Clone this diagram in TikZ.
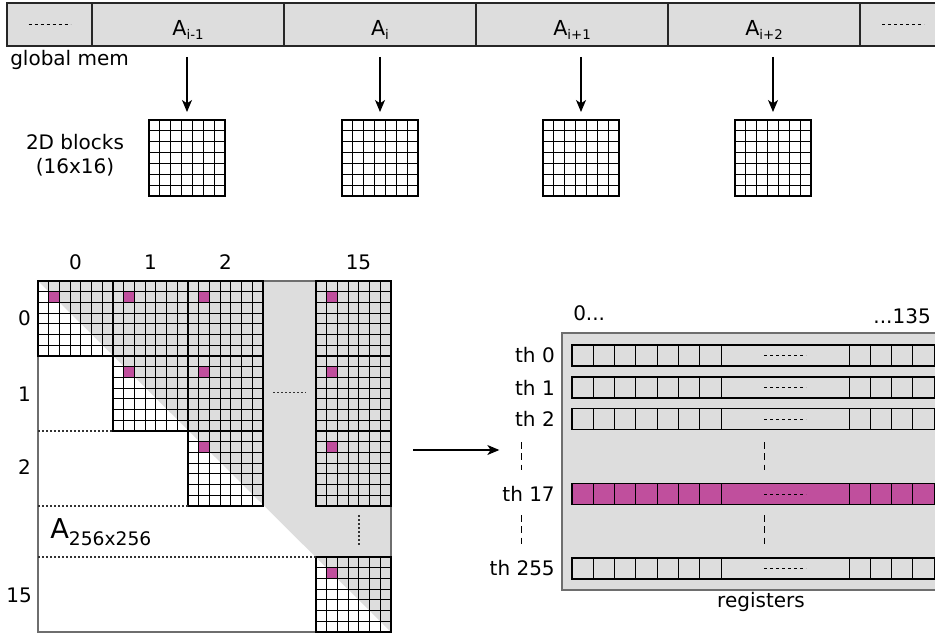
\documentclass[tikz,border=0pt]{standalone}
\usepackage{fontspec}
\setmainfont{DejaVu Sans}
\usetikzlibrary{positioning,arrows.meta,calc}
\definecolor{panelgray}{RGB}{221,221,221}
\definecolor{hitpink}{RGB}{192,79,157}
\definecolor{edgegray}{RGB}{110,110,110}

% small subscript for the memory cells
\newcommand{\memsub}[1]{\raisebox{-2.5pt}{\fontsize{10}{11}\selectfont #1}}

% 7x7 grid inside a block node
\newcommand{\blockgrid}[1]{%
  \foreach \k in {1,...,6}{%
    \draw[gridline] ($(#1.north west)!\k/7!(#1.north east)$) -- ($(#1.south west)!\k/7!(#1.south east)$);
    \draw[gridline] ($(#1.north west)!\k/7!(#1.south west)$) -- ($(#1.north east)!\k/7!(#1.south east)$);
  }}

% block of the big matrix: name, left x, top y
\newcommand{\matblock}[3]{%
  \node[mblock] (#1) at ({#2+37.5},{#3+37.5}) {};
  \blockgrid{#1}
  \fill[hitpink] ({#2+75/7+0.4},{#3+75/7+0.4}) rectangle ++({75/7-0.8},{75/7-0.8});}

% one register row: name, y, label, fill
\newcommand{\regrow}[4]{%
  \node[regbar, fill=#4] (#1) at (753.25,#2) {};
  \foreach \dx in {21.3,42.6,63.9,85.2,106.5,127.8,149.1,277,298.3,319.6,340.9}
    \draw[cellline] ($(#1.north west)+(\dx,0)$) -- ($(#1.south west)+(\dx,0)$);
  \draw[dashline] ($(#1.west)+(192,0)$) -- ++(42,0);
  \node[txt, left=12.75pt of #1] (#1lbl) {#3};}

\begin{document}
\begin{tikzpicture}[
  x=0.75pt, y=-0.75pt,
  txt/.style={font=\fontsize{15}{18}\selectfont, inner sep=0pt},
  memcell/.style={draw=black!85, fill=panelgray, line width=0.9pt,
                  minimum height=32.25pt, inner sep=0pt, outer sep=0pt,
                  font=\fontsize{15.5}{18}\selectfont, text height=17.2pt, text depth=0pt},
  blk/.style={draw, line width=1.5pt, minimum size=57pt, inner sep=0pt, outer sep=0pt},
  mblock/.style={blk, minimum size=56.25pt},
  gridline/.style={line width=0.6pt},
  cellline/.style={line width=0.7pt},
  regbar/.style={draw, line width=0.8pt, minimum width=271.875pt, minimum height=15.75pt,
                 inner sep=0pt, outer sep=0pt},
  arr/.style={-{Stealth[length=9pt,width=7.5pt,inset=2.5pt]}, line width=0.8pt},
  dotline/.style={line width=0.8pt, black!80, dash pattern=on 1.5pt off 1.5pt},
  dashline/.style={line width=0.7pt, dash pattern=on 2.25pt off 2.25pt},
  vdash/.style={line width=0.6pt, dash pattern=on 5pt off 3.5pt}
]
\useasboundingbox (0,0) rectangle (935,635);
\clip (0,0) rectangle (935,635);

% global memory
\node[memcell, minimum width=63.75pt] (gm0) at (49.5,24.5) {};
\node[memcell, minimum width=144pt] (gm1) at (188,24.5) {A\memsub{i-1}};
\node[memcell, minimum width=144pt] (gm2) at (380,24.5) {A\memsub{i}};
\node[memcell, minimum width=144pt] (gm3) at (572,24.5) {A\memsub{i+1}};
\node[memcell, minimum width=144pt] (gm4) at (764,24.5) {A\memsub{i+2}};
\node[memcell, minimum width=60pt] (gm5) at (900,24.5) {};
\draw[dashline] ($(gm0.center)+(-21,0)$) -- ++(42,0);
\draw[dashline] ($(gm5.center)+(-18,0)$) -- ++(42,0);
\node[txt, anchor=base west] (gmlbl) at (10,65) {global mem};

% 2D blocks
\node[txt, align=center] (blklbl) at (75,155) {2D blocks\\(16x16)};
\node[blk] (b1) at (187,158) {};
\node[blk] (b2) at (380,158) {};
\node[blk] (b3) at (581,158) {};
\node[blk] (b4) at (773,158) {};
\foreach \b in {b1,b2,b3,b4} {\blockgrid{\b}}
\draw[arr, shorten <=8.25pt, shorten >=6pt] (b1.north |- gm1.south) -- (b1.north);
\draw[arr, shorten <=8.25pt, shorten >=6pt] (b2.north |- gm2.south) -- (b2.north);
\draw[arr, shorten <=8.25pt, shorten >=6pt] (b3.north |- gm3.south) -- (b3.north);
\draw[arr, shorten <=8.25pt, shorten >=6pt] (b4.north |- gm4.south) -- (b4.north);

% matrix A
\node[minimum width=264.75pt, minimum height=263.25pt, inner sep=0pt, outer sep=0pt] (mat) at (214.5,456.5) {};
\fill[panelgray] (mat.north west) -- (mat.north east) -- (mat.south east) -- cycle;
\draw[edgegray, line width=0.8pt] (mat.north west) rectangle (mat.south east);
\matblock{m00}{38}{281}
\matblock{m01}{113}{281}
\matblock{m02}{188}{281}
\matblock{m0f}{316}{281}
\matblock{m11}{113}{356}
\matblock{m12}{188}{356}
\matblock{m1f}{316}{356}
\matblock{m22}{188}{431}
\matblock{m2f}{316}{431}
\matblock{mff}{316}{557}
\draw[dotline] (mat.west |- m11.south) -- (m11.south west);
\draw[dotline] (mat.west |- m22.south) -- (m22.south west);
\draw[dotline] (mat.west |- mff.north) -- (mff.north west);
\draw[dotline] ($(m12.east)+(10,-1)$) -- ($(m1f.west)+(-10,-1)$);
\draw[dotline] ($(m2f.south)+(5.5,9)$) -- ($(mff.north)+(5.5,-10)$);

\node[txt, above=8.25pt of m00] (c0) {0};
\node[txt, above=8.25pt of m01] (c1) {1};
\node[txt, above=8.25pt of m02] (c2) {2};
\node[txt, above=8.25pt of m0f, xshift=3.75pt] (c15) {15};
\node[txt, anchor=east] (r0) at (31,318.5) {0};
\node[txt, anchor=east] (r1) at (31,394) {1};
\node[txt, anchor=east] (r2) at (31,467) {2};
\node[txt, anchor=east] (r15) at (32,595) {15};
\node[anchor=base west, inner sep=0pt, font=\fontsize{20.5}{24}\selectfont] (alabel) at (50,538)
  {A\raisebox{-5.25pt}{\fontsize{14}{16}\selectfont 256x256}};

% registers
\node[draw=edgegray, fill=panelgray, line width=1.2pt, minimum width=283.5pt, minimum height=192.75pt,
      inner sep=0pt, outer sep=0pt] (regs) at (751,461.5) {};
\regrow{t0}{355.5}{th 0}{panelgray}
\regrow{t1}{387.5}{th 1}{panelgray}
\regrow{t2}{419}{th 2}{panelgray}
\regrow{t17}{494}{th 17}{hitpink}
\regrow{t255}{568.5}{th 255}{panelgray}
\draw[vdash] ($(t2.south west)+(-51,12.5)$) -- ($(t17.north west)+(-51,-13.5)$);
\draw[vdash] ($(t2.south west)+(192,12.5)$) -- ($(t17.north west)+(192,-13.5)$);
\draw[vdash] ($(t17.south west)+(-51,10.5)$) -- ($(t255.north west)+(-51,-13)$);
\draw[vdash] ($(t17.south west)+(192,10.5)$) -- ($(t255.north west)+(192,-13)$);
\node[txt, anchor=base west] (lo) at (573,320) {0...};
\node[txt, anchor=base east] (hi) at (931,323) {...135};
\node[txt, anchor=base, xshift=7.5pt] (reglbl) at ([yshift=-12.75pt]regs.south) {registers};

\draw[arr, shorten <=16.5pt, shorten >=47pt] (mat.east |- 0,450) -- (regs.west |- 0,450);
\end{tikzpicture}
\end{document}
